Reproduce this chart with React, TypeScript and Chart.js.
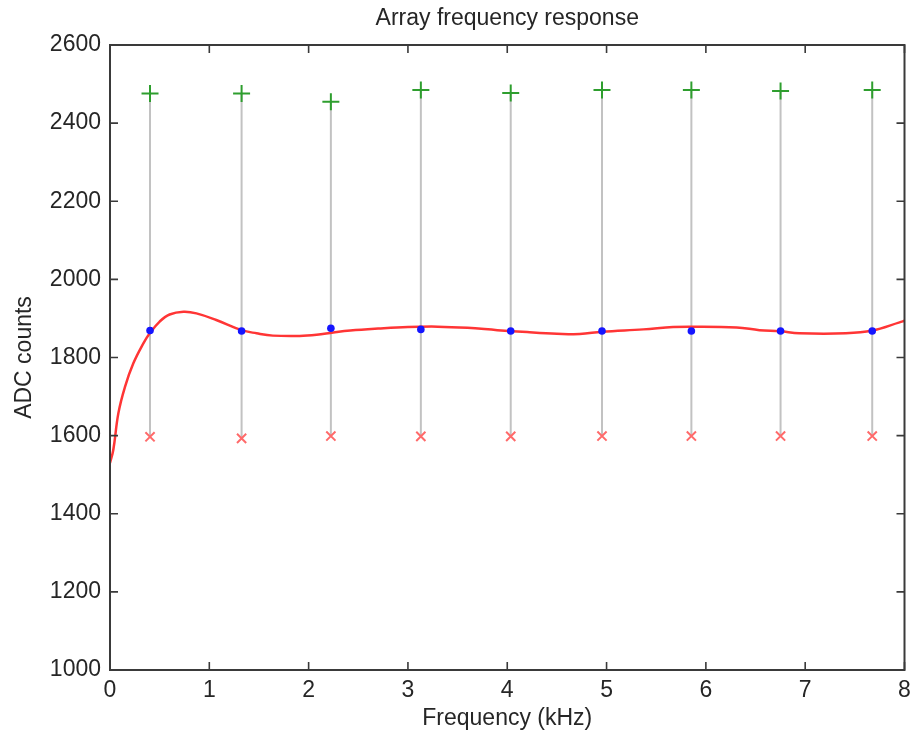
import React, { useEffect, useRef } from "react";
import { Chart, registerables } from "chart.js";

Chart.register(...registerables);

// Test tone frequencies (kHz) and measured ADC counts per channel
const toneFreqs = [0.403, 1.325, 2.224, 3.13, 4.035, 4.954, 5.854, 6.752, 7.675];
const maxCounts = [2476, 2476, 2455, 2485, 2477, 2485, 2485, 2482, 2485];
const meanCounts = [1869, 1868, 1875, 1872, 1868, 1868, 1868, 1868, 1868];
const minCounts = [1597, 1593, 1599, 1598, 1598, 1599, 1599, 1599, 1599];

// Fitted response curve
const fitFreqs = [
  0, 0.033, 0.084, 0.151, 0.235, 0.336, 0.4, 0.5, 0.6, 0.74, 0.87, 1.07, 1.325, 1.476,
  1.64, 1.91, 2.08, 2.25, 2.42, 2.7, 3.0, 3.3, 3.6, 3.9, 4.2, 4.5, 4.73, 4.954, 5.37,
  5.67, 5.85, 6.31, 6.54, 6.75, 6.94, 7.41, 7.675, 7.95, 8.0,
];
const fitCounts = [
  1530, 1563, 1657, 1725, 1785, 1836, 1862, 1892, 1910, 1917, 1913, 1896, 1870, 1862,
  1856, 1855, 1858, 1864, 1869, 1874, 1878, 1879, 1876, 1870, 1865, 1861, 1860, 1866, 1872,
  1878, 1879, 1877, 1870, 1867, 1862, 1862, 1869, 1890, 1894,
];

const xTicks = [0, 1, 2, 3, 4, 5, 6, 7, 8];
const yTicks = [1000, 1200, 1400, 1600, 1800, 2000, 2200, 2400, 2600];

const FONT = "'Liberation Sans', Arial, Helvetica, sans-serif";
const FSIZE = 23;
const TEXT = "#262626";

// Draws the boxed axes with inward tick marks on all four sides
const boxPlugin = {
  id: "matlabBox",
  afterDraw(chart: any) {
    const { ctx, chartArea, scales } = chart;
    const { left, right, top, bottom } = chartArea;
    const len = 8;
    ctx.save();
    ctx.strokeStyle = "#3a3a3a";
    ctx.lineWidth = 1.6;
    ctx.beginPath();
    for (const v of xTicks) {
      const px = scales.x.getPixelForValue(v);
      ctx.moveTo(px, bottom);
      ctx.lineTo(px, bottom - len);
      ctx.moveTo(px, top);
      ctx.lineTo(px, top + len);
    }
    for (const v of yTicks) {
      const py = scales.y.getPixelForValue(v);
      ctx.moveTo(left, py);
      ctx.lineTo(left + len, py);
      ctx.moveTo(right, py);
      ctx.lineTo(right - len, py);
    }
    ctx.stroke();
    ctx.lineWidth = 2;
    ctx.strokeRect(left, top, right - left, bottom - top);
    ctx.restore();
  },
};

export default function App() {
  const canvasRef = useRef<HTMLCanvasElement | null>(null);

  useEffect(() => {
    if (!canvasRef.current) return;

    const stems: any[] = [];
    toneFreqs.forEach((f, i) => {
      stems.push({ x: f, y: minCounts[i] });
      stems.push({ x: f, y: maxCounts[i] });
      stems.push({ x: f, y: null });
    });

    const chart = new Chart(canvasRef.current, {
      type: "scatter",
      data: {
        datasets: [
          {
            label: "mean",
            data: toneFreqs.map((f, i) => ({ x: f, y: meanCounts[i] })),
            pointStyle: "circle",
            pointRadius: 3.8,
            backgroundColor: "#1515ff",
            borderColor: "#1515ff",
            borderWidth: 0,
          },
          {
            label: "max",
            data: toneFreqs.map((f, i) => ({ x: f, y: maxCounts[i] })),
            pointStyle: "cross",
            pointRadius: 8.5,
            borderColor: "#2e9e2e",
            borderWidth: 2,
          },
          {
            label: "min",
            data: toneFreqs.map((f, i) => ({ x: f, y: minCounts[i] })),
            pointStyle: "crossRot",
            pointRadius: 6.5,
            borderColor: "#ff6a6a",
            borderWidth: 2,
          },
          {
            label: "fit",
            data: fitFreqs.map((f, i) => ({ x: f, y: fitCounts[i] })),
            showLine: true,
            pointRadius: 0,
            borderColor: "#ff3535",
            borderWidth: 2.5,
            tension: 0.4,
          },
          {
            label: "range",
            data: stems,
            showLine: true,
            spanGaps: false,
            pointRadius: 0,
            borderColor: "#c2c2c2",
            borderWidth: 2,
          },
        ],
      },
      options: {
        animation: false,
        responsive: true,
        maintainAspectRatio: false,
        layout: { padding: { left: 0, right: 0, top: 0, bottom: 0 } },
        plugins: {
          legend: { display: false },
          tooltip: { enabled: false },
          title: {
            display: true,
            fullSize: false,
            text: "Array frequency response",
            color: TEXT,
            font: { family: FONT, size: FSIZE, weight: "normal" },
            padding: { top: 5, bottom: 12.4 },
          },
        },
        scales: {
          x: {
            type: "linear",
            min: 0,
            max: 8,
            afterBuildTicks: (s: any) => {
              s.ticks = xTicks.map((v) => ({ value: v }));
            },
            afterFit: (s: any) => {
              s.height = 70;
              s.paddingLeft = 0;
              s.paddingRight = 0;
            },
            grid: { display: false, drawTicks: false },
            border: { display: false },
            ticks: {
              color: TEXT,
              padding: 7,
              font: { family: FONT, size: FSIZE },
              maxRotation: 0,
              callback: (v: any) => String(v),
            },
            title: {
              display: true,
              text: "Frequency (kHz)",
              color: TEXT,
              font: { family: FONT, size: FSIZE },
              padding: { top: 0, bottom: 8 },
            },
          },
          y: {
            type: "linear",
            min: 1000,
            max: 2600,
            afterBuildTicks: (s: any) => {
              s.ticks = yTicks.map((v) => ({ value: v }));
            },
            afterFit: (s: any) => {
              s.width = 110;
            },
            grid: { display: false, drawTicks: false },
            border: { display: false },
            ticks: {
              color: TEXT,
              padding: 9,
              font: { family: FONT, size: FSIZE },
              callback: (v: any) => String(v),
            },
            title: {
              display: true,
              text: "ADC counts",
              color: TEXT,
              font: { family: FONT, size: FSIZE },
              padding: { top: 11, bottom: 0 },
            },
          },
        },
      },
      plugins: [boxPlugin],
    } as any);

    return () => chart.destroy();
  }, []);

  return (
    <div
      style={{
        position: "absolute",
        left: 0,
        top: 0,
        width: 912,
        height: 740,
        overflow: "hidden",
        background: "#ffffff",
      }}
    >
      <div style={{ position: "relative", width: 915, height: 740 }}>
        <canvas ref={canvasRef} />
      </div>
    </div>
  );
}
